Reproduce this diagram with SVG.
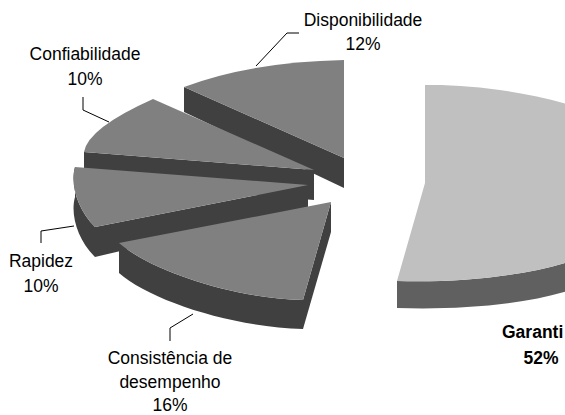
<svg xmlns="http://www.w3.org/2000/svg" width="565" height="415" viewBox="0 0 565 415">
<style>
.top{fill:#808080}
.side{fill:#404040}
.gtop{fill:#c0c0c0}
.grim{fill:#606060}
.lbl{font-family:"Liberation Sans",Arial,sans-serif;font-size:17.5px;fill:#000;text-anchor:middle}
.bold{font-weight:bold}
.lead{fill:none;stroke:#000;stroke-width:1}
</style>
<rect width="565" height="415" fill="#fff"/>
<g id="disponibilidade">
<path class="side" d="M184,87 L344,158 L344,188 L184,112 Z"/>
<path class="top" d="M184,87 Q250,62 344,60 L344,158 Z"/>
<text class="lbl" x="363" y="26">Disponibilidade</text>
<text class="lbl" x="363" y="50">12%</text>
</g>
<g id="confiabilidade">
<path class="side" d="M84,152 L314,170 L314,200 L84,182 Z"/>
<path class="top" d="M153,99 L314,170 L84,152 Q88,128 153,99 Z"/>
<text class="lbl" x="85" y="60">Confiabilidade</text>
<text class="lbl" x="85" y="85">10%</text>
</g>
<g id="rapidez">
<path class="side" d="M95,257 C78,240 70,215 75,197 L75,167 C70,185 78,210 95,227 Z"/>
<path class="side" d="M95,227 L308,185 L308,207 L95,257 Z"/>
<path class="top" d="M75,167 L308,185 L95,227 C78,210 70,185 75,167 Z"/>
<text class="lbl" x="41" y="267">Rapidez</text>
<text class="lbl" x="41" y="292">10%</text>
</g>
<g id="consistencia">
<path class="side" d="M119,243 C150,270 230,298 303,300 L303,329 C230,327 150,300 119,273 Z"/>
<path class="side" d="M331,202 L331,232 L303,329 L303,300 Z"/>
<path class="top" d="M119,243 C150,270 230,298 303,300 L331,202 Z"/>
<text class="lbl" x="170" y="364">Consistência de</text>
<text class="lbl" x="170" y="388">desempenho</text>
<text class="lbl" x="170" y="411">16%</text>
</g>
<g id="garantia">
<path class="grim" d="M397,281 C460,283 530,276 580,258 L580,287 C530,305 460,310 397,308 Z"/>
<path class="gtop" d="M425,85 C470,84 530,92 580,108 L580,258 C530,276 460,283 397,281 L425,183 Z"/>
<text class="lbl bold" x="502" y="338" style="text-anchor:start">Garanti</text>
<text class="lbl bold" x="541" y="364">52%</text>
</g>
<g id="connectors">
<polyline class="lead" points="256,66 287,33 299,33"/>
<polyline class="lead" points="109,122 83,110 83,97"/>
<polyline class="lead" points="74,226 41,231 41,243"/>
<polyline class="lead" points="193,314 170,328 170,341"/>
</g>
</svg>
